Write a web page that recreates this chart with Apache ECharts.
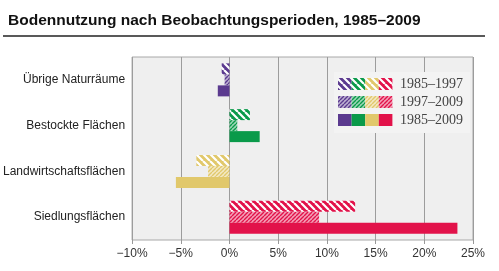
<!DOCTYPE html>
<html>
<head>
<meta charset="utf-8">
<script src="https://cdn.jsdelivr.net/npm/echarts@6/dist/echarts.min.js"></script>
<style>
html, body { margin: 0; padding: 0; background: #fff; }
#chart { width: 499px; height: 271px; }
</style>
</head>
<body>
<div id="chart"></div>
<script>
var categories = ['Übrige Naturräume', 'Bestockte Flächen', 'Landwirtschaftsflächen', 'Siedlungsflächen'];
var periodNames = ['1985–1997', '1997–2009', '1985–2009'];
var period1 = [-0.8, 2.1, -3.4, 12.9];   // 1985–1997
var period2 = [-0.5, 0.8, -2.2, 9.2];    // 1997–2009
var periodAll = [-1.2, 3.1, -5.5, 23.4]; // 1985–2009
var catColors = ['#5b3a8f', '#0a9a4a', '#e1c86b', '#e2124a'];
var xMin = -10, xMax = 25, xStep = 5;

function tint(hex, k) {
    var r = parseInt(hex.substr(1, 2), 16), g = parseInt(hex.substr(3, 2), 16), b = parseInt(hex.substr(5, 2), 16);
    r = Math.round(r + (255 - r) * k); g = Math.round(g + (255 - g) * k); b = Math.round(b + (255 - b) * k);
    return 'rgb(' + r + ',' + g + ',' + b + ')';
}

// kind 0: dense stripes (\\), kind 1: fine stripes (//), kind 2: solid
function makeFill(color, kind) {
    if (kind == 2) return color;
    var s = kind == 0 ? 7 : 4;
    var c = document.createElement('canvas');
    c.width = s; c.height = s;
    var ctx = c.getContext('2d');
    ctx.fillStyle = kind == 0 ? color : tint(color, 0.6);
    ctx.fillRect(0, 0, s, s);
    ctx.strokeStyle = kind == 0 ? '#ffffff' : color;
    ctx.lineWidth = kind == 0 ? 2.2 : 1.4;
    ctx.beginPath();
    for (var o = -s; o <= s; o += s) {
        if (kind == 0) { ctx.moveTo(o, 0); ctx.lineTo(o + s, s); }
        else { ctx.moveTo(o, s); ctx.lineTo(o + s, 0); }
    }
    ctx.stroke();
    return { image: c, repeat: 'repeat' };
}

function seriesData(values, kind) {
    return values.map(function (v, i) {
        return { value: v, itemStyle: { color: makeFill(catColors[i], kind) } };
    });
}

var allValues = [period1, period2, periodAll];
var series = allValues.map(function (vals, k) {
    return {
        name: periodNames[k],
        type: 'bar',
        barWidth: 11,
        barGap: '0%',
        data: seriesData(vals, k)
    };
});

// legend box drawn as graphic (four swatches per row)
var legendEls = [{
    type: 'rect', left: 334, top: 72, z: 10,
    shape: { width: 136, height: 61 },
    style: { fill: '#f3f3f3' }
}];
periodNames.forEach(function (name, k) {
    var y = 78 + k * 18;
    catColors.forEach(function (col, i) {
        legendEls.push({
            type: 'rect', z: 11,
            shape: { x: 338 + i * 13.6, y: y, width: 13.6, height: 12 },
            style: { fill: makeFill(col, k) }
        });
    });
    legendEls.push({
        type: 'text', z: 11, left: 400, top: y - 1,
        style: { text: name, fill: '#444', font: '14px "Liberation Serif"' }
    });
});

var chart = echarts.init(document.getElementById('chart'));
chart.setOption({
    animation: false,
    title: {
        text: 'Bodennutzung nach Beobachtungsperioden, 1985–2009',
        left: 3, top: 8,
        textStyle: { fontFamily: 'Liberation Sans', fontWeight: 'bold', fontSize: 15.5, color: '#111' }
    },
    grid: {
        left: 132, right: 26, top: 57, bottom: 31,
        show: true, backgroundColor: '#efefef', borderColor: '#a8a8a8', borderWidth: 1
    },
    xAxis: {
        type: 'value', min: xMin, max: xMax, interval: xStep,
        axisLine: { show: false },
        axisTick: { show: true, length: 4, lineStyle: { color: '#999' } },
        splitLine: { show: true, lineStyle: { color: '#9c9c9c', width: 1 } },
        axisLabel: {
            color: '#333', fontFamily: 'Liberation Sans', fontSize: 12, margin: 8,
            formatter: function (v) { return (v < 0 ? '−' + Math.abs(v) : v) + '%'; }
        }
    },
    yAxis: {
        type: 'category', data: categories, inverse: true,
        axisLine: { show: false }, axisTick: { show: false },
        axisLabel: { color: '#222', fontFamily: 'Liberation Sans', fontSize: 12, margin: 7 }
    },
    series: series,
    graphic: [{
        type: 'line', z: 5,
        shape: { x1: 3, y1: 36, x2: 485, y2: 36 },
        style: { stroke: '#222', lineWidth: 1.5 }
    }].concat(legendEls)
});
</script>
</body>
</html>
